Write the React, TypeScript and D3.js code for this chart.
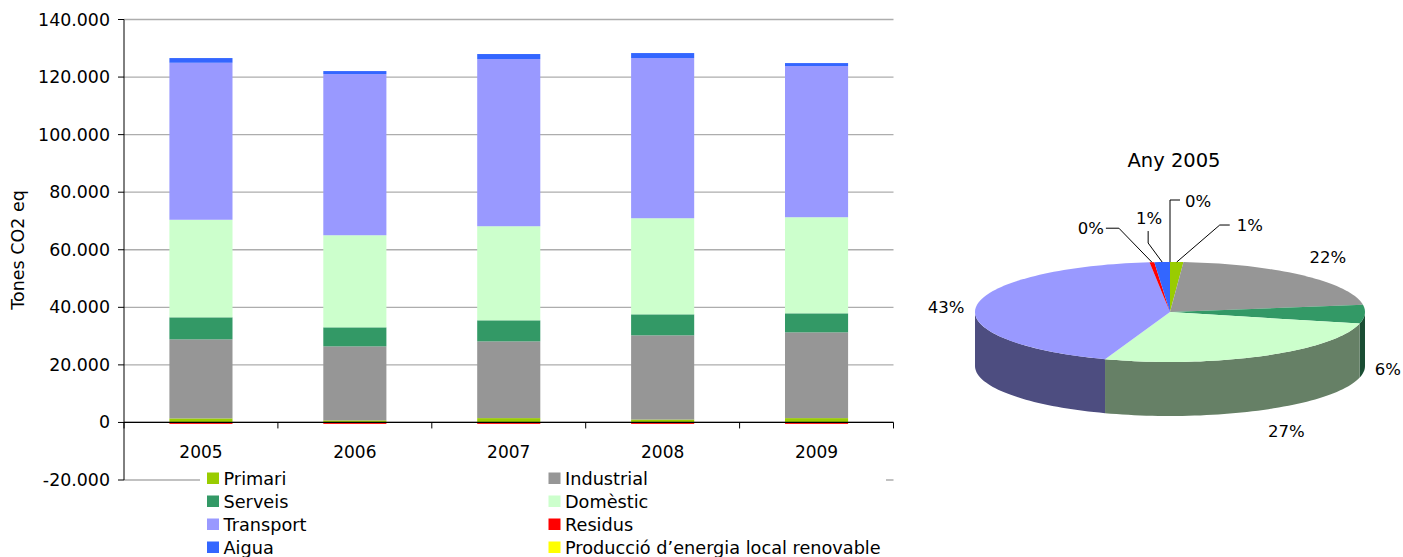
import React from 'react';
import * as d3 from 'd3';

// ---------- DATA ----------
const years = ['2005', '2006', '2007', '2008', '2009'];
const seriesNames = ['Primari', 'Industrial', 'Serveis', 'Domèstic', 'Transport', 'Residus', 'Aigua', 'Producció d’energia local renovable'];
const seriesColors = ['#99CC00', '#969696', '#339966', '#CCFFCC', '#9999FF', '#FF0000', '#3366FF', '#FFFF00'];
const primari = [1400, 700, 1500, 1000, 1500];
const industrial = [27470, 25730, 26670, 29260, 29800];
const serveis = [7650, 6610, 7310, 7300, 6610];
const domestic = [33900, 32000, 32690, 33390, 33390];
const transport = [54550, 55990, 58080, 55650, 52520];
const residus = [-500, -500, -500, -500, -500];
const aigua = [1630, 1050, 1750, 1740, 1040];
const produccio = [0, 0, 0, 0, 0];
const seriesValues = [primari, industrial, serveis, domestic, transport, residus, aigua, produccio];
const yTicks = [-20000, 0, 20000, 40000, 60000, 80000, 100000, 120000, 140000];
const yTitle = 'Tones CO2 eq';
const pieTitle = 'Any 2005';
const pieYearIndex = 0;

// ---------- LAYOUT / STYLE ----------
const W = 1403, H = 557;
const FONT = 'Verdana, "DejaVu Sans", sans-serif';
const plot = { left: 124, right: 893.5, top: 19.5, bottom: 480 };
const pieGeo = { cx: 1170, cy: 312, rx: 195, ry: 50, depth: 54 };
// leader-label layout for tiny slices (offsets relative to rim point)
const leaderLayout: Record<number, { elbow: [number, number]; tail: [number, number]; text: [number, number]; anchor: string }> = {
  0: { elbow: [43, -37], tail: [10, 0], text: [7, 0], anchor: 'start' },
  7: { elbow: [0, -62], tail: [10, 0], text: [5, 1], anchor: 'start' },
  6: { elbow: [-14, -19], tail: [0, -12], text: [1, -13], anchor: 'middle' },
  5: { elbow: [-33, -34], tail: [-13, 0], text: [-2, 0], anchor: 'end' },
};

const locale = d3.formatLocale({ decimal: ',', thousands: '.', grouping: [3], currency: ['', ''], minus: '-' });
const fmt = locale.format(',');

function darker(c: string) {
  const col = d3.rgb(c);
  return d3.rgb(col.r * 0.5, col.g * 0.5, col.b * 0.5).toString();
}

export default function App() {
  const x = d3.scaleBand<string>().domain(years).range([plot.left, plot.right]).paddingInner(0.59).paddingOuter(0.295);
  const y = d3.scaleLinear().domain([-20000, 140000]).range([plot.bottom, plot.top]);

  const rows = years.map((yr, i) => {
    const o: any = { year: yr };
    seriesNames.forEach((k, j) => (o[k] = seriesValues[j][i]));
    return o;
  });
  const stacked = d3.stack<any>().keys(seriesNames).offset(d3.stackOffsetDiverging)(rows);

  const step = x.step();
  const boundaries = d3.range(years.length + 1).map((i) => plot.left + i * step);

  // ---------- PIE ----------
  const pieVals = seriesValues.map((s) => Math.abs(s[pieYearIndex]));
  const total = d3.sum(pieVals);
  const arcs = d3.pie<number>().sort(null).startAngle(0).endAngle(2 * Math.PI)(pieVals);
  const { cx, cy, rx, ry, depth } = pieGeo;
  const px = (a: number) => cx + rx * Math.sin(a);
  const py = (a: number) => cy - ry * Math.cos(a);
  const sample = (a0: number, a1: number) => {
    const n = Math.max(2, Math.ceil(((a1 - a0) / (2 * Math.PI)) * 200));
    return d3.range(n + 1).map((k) => a0 + ((a1 - a0) * k) / n);
  };
  const sides = arcs.map((a, i) => {
    const s0 = Math.max(a.startAngle, Math.PI / 2);
    const s1 = Math.min(a.endAngle, (3 * Math.PI) / 2);
    if (s1 <= s0) return null;
    const top = sample(s0, s1).map((t) => [px(t), py(t)]);
    const bot = top.slice().reverse().map(([u, v]) => [u, v + depth]);
    const d = 'M' + top.concat(bot).map((p) => p.join(',')).join('L') + 'Z';
    return <path key={'side' + i} d={d} fill={darker(seriesColors[i])} />;
  });
  const tops = arcs.map((a, i) => {
    if (a.endAngle - a.startAngle <= 0) return null;
    const pts = sample(a.startAngle, a.endAngle).map((t) => [px(t), py(t)]);
    const d = `M${cx},${cy}L` + pts.map((p) => p.join(',')).join('L') + 'Z';
    return <path key={'top' + i} d={d} fill={seriesColors[i]} />;
  });
  const pct = d3.format('.0%');
  const labels = arcs.map((a, i) => {
    const mid = (a.startAngle + a.endAngle) / 2;
    const txt = pct(pieVals[i] / total);
    const lay = leaderLayout[i];
    if (lay) {
      const rim = [px(mid), py(mid)];
      const e = [rim[0] + lay.elbow[0], rim[1] + lay.elbow[1]];
      const t = [e[0] + lay.tail[0], e[1] + lay.tail[1]];
      const tp = [t[0] + lay.text[0], t[1] + lay.text[1]];
      return (
        <g key={'lab' + i}>
          <polyline points={[rim, e, t].map((p) => p.join(',')).join(' ')} fill="none" stroke="#000" strokeWidth={1} />
          <text x={tp[0]} y={tp[1]} textAnchor={lay.anchor} dominantBaseline="central" fontSize={16.5} fontFamily={FONT}>{txt}</text>
        </g>
      );
    }
    const s = Math.sin(mid), c = Math.cos(mid);
    const lx = cx + (s > 0 ? 205 : 207) * s;
    const ly = cy - (ry + 16) * c + (c < 0 ? depth : 0) - 8 * c + (s < -0.9 ? 4 : 0);
    const anchor = s > 0.2 ? 'start' : s < -0.2 ? 'end' : 'middle';
    return (
      <text key={'lab' + i} x={lx} y={ly} textAnchor={anchor} dominantBaseline="central" fontSize={16.5} fontFamily={FONT}>{txt}</text>
    );
  });

  // ---------- LEGEND ----------
  const legendCols = [207, 548.5];
  const legendRows = [478.5, 501.5, 524.5, 547.5];

  return (
    <svg width={W} height={H} style={{ position: 'absolute', left: 0, top: 0, background: '#fff' }}>
      {/* gridlines */}
      {yTicks.map((t) => (
        <line key={'g' + t} x1={plot.left} x2={plot.right} y1={y(t)} y2={y(t)} stroke="#ADADAD" strokeWidth={1.3} />
      ))}
      {/* bars */}
      {stacked.map((s, si) => (
        <g key={'s' + si} fill={seriesColors[si]}>
          {s.map((d, i) => {
            const y0 = y(d[1]), y1 = y(d[0]);
            if (Math.abs(y1 - y0) < 0.01) return null;
            return <rect key={i} x={x(years[i])} y={Math.min(y0, y1)} width={x.bandwidth()} height={Math.abs(y1 - y0)} />;
          })}
        </g>
      ))}
      {/* y axis */}
      <line x1={plot.left} x2={plot.left} y1={plot.top} y2={plot.bottom} stroke="#000" strokeWidth={1} />
      {yTicks.map((t) => (
        <g key={'yt' + t}>
          <line x1={plot.left - 6} x2={plot.left} y1={y(t)} y2={y(t)} stroke="#000" strokeWidth={1} />
          <text x={110} y={y(t)} textAnchor="end" dominantBaseline="central" fontSize={17.4} fontFamily={FONT}>{fmt(t)}</text>
        </g>
      ))}
      <text transform={`translate(17.5,250) rotate(-90)`} textAnchor="middle" dominantBaseline="central" fontSize={17.5} fontFamily={FONT}>{yTitle}</text>
      {/* x axis at zero */}
      <line x1={plot.left} x2={plot.right} y1={y(0)} y2={y(0)} stroke="#000" strokeWidth={1.2} />
      {boundaries.map((b, i) => (
        <line key={'xt' + i} x1={b} x2={b} y1={y(0)} y2={y(0) + 6} stroke="#000" strokeWidth={1} />
      ))}
      {years.map((yr) => (
        <text key={'xl' + yr} x={(x(yr) as number) + x.bandwidth() / 2} y={452} textAnchor="middle" dominantBaseline="central" fontSize={17} fontFamily={FONT}>{yr}</text>
      ))}
      {/* legend */}
      <rect x={200} y={467} width={686} height={90} fill="#fff" />
      {seriesNames.map((n, i) => {
        const cxL = legendCols[i % 2];
        const cyL = legendRows[Math.floor(i / 2)];
        return (
          <g key={'lg' + i}>
            <rect x={cxL} y={cyL - 6} width={12} height={11.5} fill={seriesColors[i]} />
            <text x={cxL + 16.5} y={cyL} dominantBaseline="central" fontSize={17.7} fontFamily={FONT}>{n}</text>
          </g>
        );
      })}
      {/* pie */}
      <text x={1174} y={160} textAnchor="middle" dominantBaseline="central" fontSize={19.5} fontFamily={FONT}>{pieTitle}</text>
      {sides}
      {tops}
      {labels}
    </svg>
  );
}
